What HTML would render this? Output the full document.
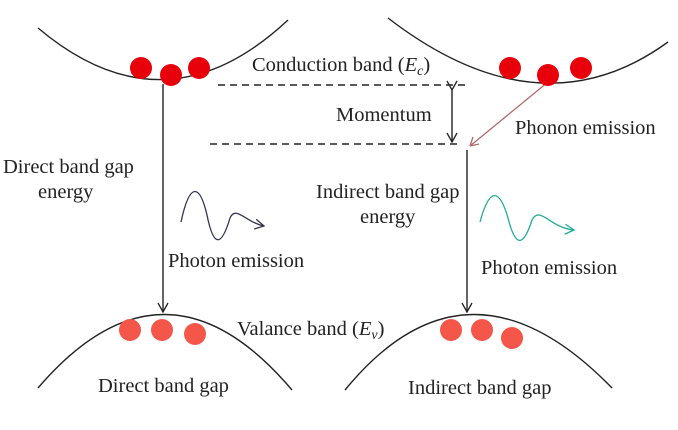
<!DOCTYPE html>
<html><head><meta charset="utf-8"><style>
body{margin:0;background:#fff;}
svg{display:block;font-family:"Liberation Serif",serif;}
</style></head><body>
<svg width="678" height="430" viewBox="0 0 678 430">
<defs><marker id="ah" markerWidth="12" markerHeight="12" refX="10" refY="6" orient="auto" markerUnits="userSpaceOnUse"><path d="M1,1 L10,6 L1,11" fill="none" stroke="#222" stroke-width="1.3"/></marker>
<marker id="ahb" markerWidth="12" markerHeight="12" refX="10" refY="6" orient="auto" markerUnits="userSpaceOnUse"><path d="M1,1 L10,6 L1,11" fill="none" stroke="#334" stroke-width="1.3"/></marker>
<marker id="ahg" markerWidth="12" markerHeight="12" refX="10" refY="6" orient="auto" markerUnits="userSpaceOnUse"><path d="M1,1 L10,6 L1,11" fill="none" stroke="#2a9" stroke-width="1.3"/></marker></defs>
<g fill="none" stroke="#222" stroke-width="1.4">
<path d="M38,28 Q165,135 288,20"/>
<path d="M388,18 Q540,135 668,42"/>
<path d="M38,388 Q165,240 292,390"/>
<path d="M345,390 Q468,240 612,388"/>
<line x1="163" y1="84" x2="163" y2="312" marker-end="url(#ah)"/>
<line x1="467" y1="150" x2="467" y2="312" marker-end="url(#ah)"/>
<line x1="218" y1="85" x2="465" y2="85" stroke-dasharray="7,5"/>
<line x1="210" y1="144" x2="458" y2="144" stroke-dasharray="7,5"/>
<line x1="452" y1="90" x2="452" y2="142" marker-start="url(#ah)" marker-end="url(#ah)"/>
</g>
<path d="M548,82 L470,146" stroke="#b06a6a" stroke-width="1.3" fill="none"/>
<path d="M470,146 l3,-9 M470,146 l9,-2" stroke="#b06a6a" stroke-width="1.3" fill="none"/>
<g fill="#e8000b">
<circle cx="141" cy="68" r="11"/>
<circle cx="171" cy="75" r="11"/>
<circle cx="199" cy="68" r="11"/>
<circle cx="510" cy="68" r="11"/>
<circle cx="548" cy="75" r="11"/>
<circle cx="581" cy="68" r="11"/>
</g>
<g fill="#f5564a">
<circle cx="130" cy="330" r="11"/>
<circle cx="162" cy="330" r="11"/>
<circle cx="195" cy="334" r="11"/>
<circle cx="451" cy="330" r="11"/>
<circle cx="482" cy="330" r="11"/>
<circle cx="512" cy="338" r="11"/>
</g>
<path d="M181,222 C190,180 200,185 207,215 C214,250 222,245 230,218 C236,205 245,222 264,226" fill="none" stroke="#335" stroke-width="1.3" marker-end="url(#ahb)"/>
<path d="M480,222 C490,185 500,190 508,218 C516,250 524,245 532,220 C540,205 550,228 574,230" fill="none" stroke="#2a9" stroke-width="1.3" marker-end="url(#ahg)"/>
<g fill="#222" font-size="20.5">
<text x="252" y="71">Conduction band (<tspan font-style="italic">E</tspan><tspan font-style="italic" font-size="14" dy="4">c</tspan><tspan dy="-4">)</tspan></text>
<text x="336" y="121">Momentum</text>
<text x="515" y="134">Phonon emission</text>
<text x="3" y="173">Direct band gap</text>
<text x="38" y="198">energy</text>
<text x="316" y="198">Indirect band gap</text>
<text x="360" y="223">energy</text>
<text x="168" y="267">Photon emission</text>
<text x="481" y="274">Photon emission</text>
<text x="237" y="335">Valance band (<tspan font-style="italic">E</tspan><tspan font-style="italic" font-size="14" dy="4">v</tspan><tspan dy="-4">)</tspan></text>
<text x="98" y="392">Direct band gap</text>
<text x="408" y="394">Indirect band gap</text>
</g>
</svg>
</body></html>
